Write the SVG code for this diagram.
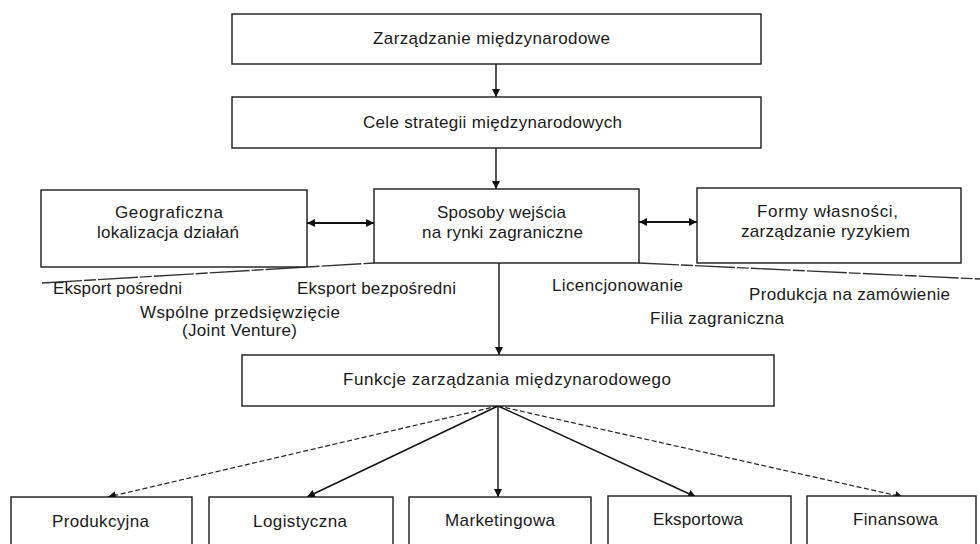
<svg xmlns="http://www.w3.org/2000/svg" width="980" height="544" viewBox="0 0 980 544">
  <style>
    .box { fill: #ffffff; stroke: #1a1a1a; stroke-width: 1.4; }
    .lbl { font-family: "Liberation Sans", Arial, sans-serif; font-size: 17px; fill: #1a1a1a; }
    .link { fill: none; stroke: #111111; stroke-width: 1.4; }
    .dash { fill: none; stroke: #222222; stroke-width: 1.2; stroke-dasharray: 5 2.5; }
    .sep { fill: none; stroke: #333333; stroke-width: 1.4; stroke-dasharray: 40 2 12 2; }
    .thick { fill: none; stroke: #111111; stroke-width: 2; }
  </style>
  <defs>
    <marker id="ah" viewBox="0 0 10 10" refX="10" refY="5" markerWidth="8" markerHeight="8" markerUnits="userSpaceOnUse" orient="auto">
      <path d="M0,0 L10,5 L0,10 z" fill="#111111"/>
    </marker>
    <marker id="ahs" viewBox="0 0 10 10" refX="0" refY="5" markerWidth="8" markerHeight="8" markerUnits="userSpaceOnUse" orient="auto">
      <path d="M10,0 L0,5 L10,10 z" fill="#111111"/>
    </marker>
  </defs>
  <rect width="980" height="544" fill="#ffffff"/>

  <!-- connectors -->
  <g id="connectors">
    <line class="link" x1="496" y1="64" x2="496" y2="97" marker-end="url(#ah)"/>
    <line class="link" x1="496" y1="148" x2="496" y2="189" marker-end="url(#ah)"/>
    <line class="thick" x1="307" y1="223" x2="374" y2="223" marker-start="url(#ahs)" marker-end="url(#ah)"/>
    <line class="thick" x1="639" y1="222" x2="697" y2="222" marker-start="url(#ahs)" marker-end="url(#ah)"/>
    <line class="link" x1="499" y1="263" x2="499" y2="355" marker-end="url(#ah)"/>
    <!-- separator lines under the entry-mode row -->
    <path class="sep" d="M42,283 L374,263"/>
    <path class="sep" d="M639,263 L980,279"/>
    <!-- fan to function boxes -->
    <line class="dash" x1="498" y1="406" x2="108" y2="497" marker-end="url(#ah)"/>
    <line class="link" x1="498" y1="406" x2="307" y2="497" marker-end="url(#ah)"/>
    <line class="link" x1="498" y1="406" x2="498" y2="497" marker-end="url(#ah)"/>
    <line class="link" x1="498" y1="406" x2="696" y2="497" marker-end="url(#ah)"/>
    <line class="dash" x1="498" y1="406" x2="903" y2="497" marker-end="url(#ah)"/>
  </g>

  <g id="n-zarzadzanie">
    <rect class="box" x="232" y="14" width="529" height="50"/>
    <text class="lbl" x="373" y="44" textLength="237" lengthAdjust="spacing">Zarządzanie międzynarodowe</text>
  </g>
  <g id="n-cele">
    <rect class="box" x="232" y="97" width="529" height="51"/>
    <text class="lbl" x="363" y="128" textLength="259" lengthAdjust="spacing">Cele strategii międzynarodowych</text>
  </g>
  <g id="n-geograficzna">
    <rect class="box" x="41" y="190" width="266" height="77"/>
    <text class="lbl" x="115" y="218" textLength="108" lengthAdjust="spacing">Geograficzna</text>
    <text class="lbl" x="97" y="238" textLength="142" lengthAdjust="spacing">lokalizacja działań</text>
  </g>
  <g id="n-sposoby">
    <rect class="box" x="374" y="189" width="265" height="74"/>
    <text class="lbl" x="437" y="218" textLength="129" lengthAdjust="spacing">Sposoby wejścia</text>
    <text class="lbl" x="422" y="238" textLength="161" lengthAdjust="spacing">na rynki zagraniczne</text>
  </g>
  <g id="n-formy">
    <rect class="box" x="697" y="188" width="264" height="75"/>
    <text class="lbl" x="757" y="217" textLength="141" lengthAdjust="spacing">Formy własności,</text>
    <text class="lbl" x="741" y="237" textLength="169" lengthAdjust="spacing">zarządzanie ryzykiem</text>
  </g>

  <!-- entry modes -->
  <g id="entry-modes">
    <text class="lbl" x="53" y="294" textLength="129" lengthAdjust="spacing">Eksport pośredni</text>
    <text class="lbl" x="297" y="294" textLength="159" lengthAdjust="spacing">Eksport bezpośredni</text>
    <text class="lbl" x="140" y="318" textLength="200" lengthAdjust="spacing">Wspólne przedsięwzięcie</text>
    <text class="lbl" x="182" y="336" textLength="115" lengthAdjust="spacing">(Joint Venture)</text>
    <text class="lbl" x="552" y="291" textLength="131" lengthAdjust="spacing">Licencjonowanie</text>
    <text class="lbl" x="749" y="300" textLength="201" lengthAdjust="spacing">Produkcja na zamówienie</text>
    <text class="lbl" x="650" y="324" textLength="134" lengthAdjust="spacing">Filia zagraniczna</text>
  </g>

  <g id="n-funkcje">
    <rect class="box" x="242" y="355" width="532" height="51"/>
    <text class="lbl" x="343" y="385" textLength="328" lengthAdjust="spacing">Funkcje zarządzania międzynarodowego</text>
  </g>

  <g id="n-produkcyjna">
    <rect class="box" x="11" y="497" width="181" height="60"/>
    <text class="lbl" x="52" y="527" textLength="97" lengthAdjust="spacing">Produkcyjna</text>
  </g>
  <g id="n-logistyczna">
    <rect class="box" x="209" y="497" width="184" height="60"/>
    <text class="lbl" x="253" y="527" textLength="94" lengthAdjust="spacing">Logistyczna</text>
  </g>
  <g id="n-marketingowa">
    <rect class="box" x="409" y="497" width="182" height="60"/>
    <text class="lbl" x="445" y="526" textLength="110" lengthAdjust="spacing">Marketingowa</text>
  </g>
  <g id="n-eksportowa">
    <rect class="box" x="608" y="496" width="183" height="60"/>
    <text class="lbl" x="653" y="525" textLength="90" lengthAdjust="spacing">Eksportowa</text>
  </g>
  <g id="n-finansowa">
    <rect class="box" x="807" y="496" width="169" height="60"/>
    <text class="lbl" x="853" y="525" textLength="85" lengthAdjust="spacing">Finansowa</text>
  </g>
</svg>
